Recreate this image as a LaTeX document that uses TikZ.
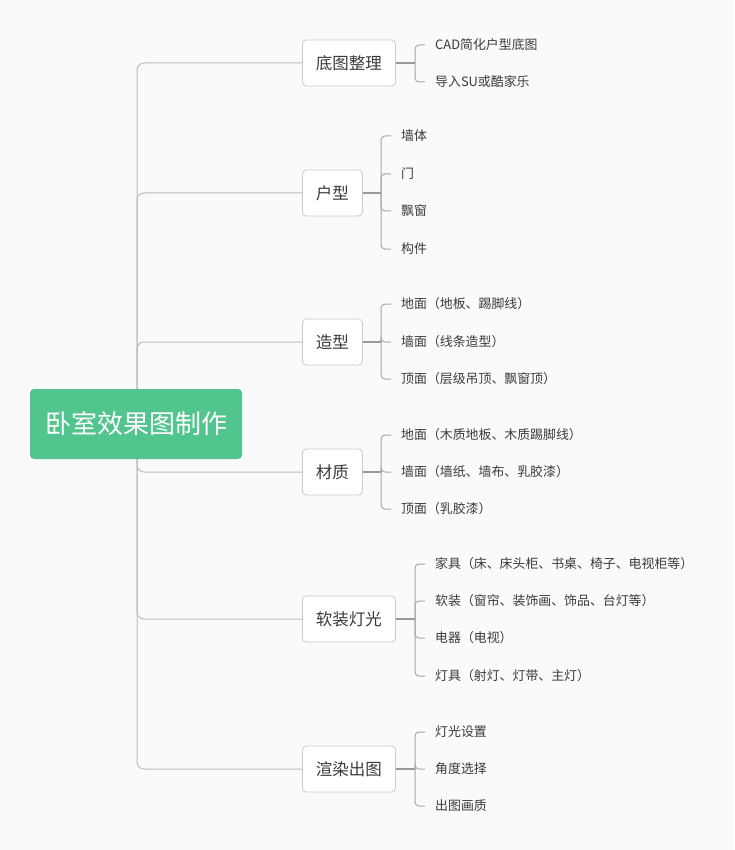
\documentclass[tikz,border=0pt]{standalone}
\usepackage{fontspec}
\setmainfont{Noto Sans CJK SC}
\definecolor{bgc}{HTML}{FAFAFA}
\definecolor{rootc}{HTML}{52C48D}
\definecolor{trunkc}{HTML}{BDBDBD}
\definecolor{brc}{HTML}{A6A6A6}
\definecolor{connc}{HTML}{9A9A9A}
\definecolor{boxc}{HTML}{CACACA}
\definecolor{txtc}{HTML}{3A3A3A}
\begin{document}
\begin{tikzpicture}[x=1pt,y=-1pt,
  rootbox/.style={fill=rootc,rounded corners=4pt,minimum width=212pt,minimum height=70pt,inner sep=0pt,text=white,font=\fontsize{26}{30}\selectfont},
  mainbox/.style={draw=boxc,line width=0.8pt,fill=white,rounded corners=4pt,minimum height=46pt,inner xsep=13.5pt,inner ysep=0pt,anchor=west,text=txtc,font=\fontsize{16.5}{20}\selectfont},
  leaf/.style={anchor=west,inner xsep=10pt,inner ysep=2pt,text=txtc,font=\fontsize{12.9}{15}\selectfont},
  trunk/.style={draw=trunkc,line width=1pt,rounded corners=7pt},
  conn/.style={draw=connc,line width=1.8pt},
  bracket/.style={draw=brc,line width=1pt,rounded corners=4pt}
]
\fill[bgc] (0,0) rectangle (734,850);
\useasboundingbox (0,0) rectangle (734,850);

% main nodes
\node[mainbox] (n1) at (302,63) {底图整理};
\node[mainbox] (n2) at (302,193) {户型};
\node[mainbox] (n3) at (302,342) {造型};
\node[mainbox] (n4) at (302,472) {材质};
\node[mainbox] (n5) at (302,619) {软装灯光};
\node[mainbox] (n6) at (302,769) {渲染出图};

\coordinate (hub) at (137,424);
\foreach \n in {n1,n2,n3,n4,n5,n6} \draw[trunk] (hub) |- (\n.west);

\node[rootbox] (root) at (136,424) {卧室效果图制作};

% bracket points
\coordinate (b1) at (415,63);
\coordinate (b2) at (381,193);
\coordinate (b3) at (381,342);
\coordinate (b4) at (381,472);
\coordinate (b5) at (415,619);
\coordinate (b6) at (415,769);

% leaves
\node[leaf] (c11) at (425,45) {CAD简化户型底图};
\node[leaf] (c12) at (425,82) {导入SU或酷家乐};

\node[leaf] (c21) at (391,136) {墙体};
\node[leaf] (c22) at (391,174) {门};
\node[leaf] (c23) at (391,211) {飘窗};
\node[leaf] (c24) at (391,249) {构件};

\node[leaf] (c31) at (391,304) {地面（地板、踢脚线）};
\node[leaf] (c32) at (391,342) {墙面（线条造型）};
\node[leaf] (c33) at (391,379) {顶面（层级吊顶、飘窗顶）};

\node[leaf] (c41) at (391,435) {地面（木质地板、木质踢脚线）};
\node[leaf] (c42) at (391,472) {墙面（墙纸、墙布、乳胶漆）};
\node[leaf] (c43) at (391,509) {顶面（乳胶漆）};

\node[leaf] (c51) at (425,564) {家具（床、床头柜、书桌、椅子、电视柜等）};
\node[leaf] (c52) at (425,601) {软装（窗帘、装饰画、饰品、台灯等）};
\node[leaf] (c53) at (425,638) {电器（电视）};
\node[leaf] (c54) at (425,676) {灯具（射灯、灯带、主灯）};

\node[leaf] (c61) at (425,732) {灯光设置};
\node[leaf] (c62) at (425,769) {角度选择};
\node[leaf] (c63) at (425,806) {出图画质};

% connectors
\draw[conn] (n1.east) -- (b1);
\draw[conn] (n2.east) -- (b2);
\draw[conn] (n3.east) -- (b3);
\draw[conn] (n4.east) -- (b4);
\draw[conn] (n5.east) -- (b5);
\draw[conn] (n6.east) -- (b6);

\foreach \c in {c11,c12} \draw[bracket] (b1) |- (\c.west);
\foreach \c in {c21,c22,c23,c24} \draw[bracket] (b2) |- (\c.west);
\foreach \c in {c31,c32,c33} \draw[bracket] (b3) |- (\c.west);
\foreach \c in {c41,c42,c43} \draw[bracket] (b4) |- (\c.west);
\foreach \c in {c51,c52,c53,c54} \draw[bracket] (b5) |- (\c.west);
\foreach \c in {c61,c62,c63} \draw[bracket] (b6) |- (\c.west);
\end{tikzpicture}
\end{document}
